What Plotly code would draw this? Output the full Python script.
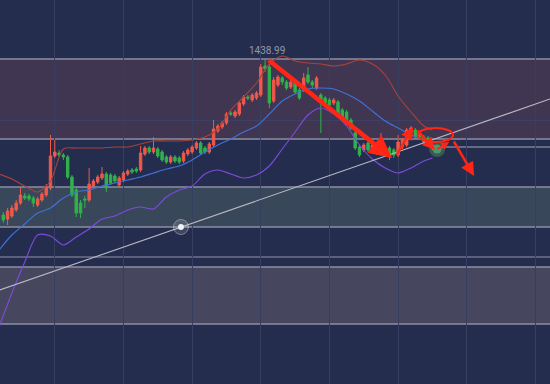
import plotly.graph_objects as go

# ---------------- data (prices) ----------------
bar_index = list(range(101))
open_ = [1361.0,1359.0,1360.5,1363.5,1367.0,1370.5,1370.5,1369.5,1366.0,1368.5,
         1371.0,1374.5,1390.5,1392.0,1391.0,1390.0,1380.0,1373.5,1367.0,1369.0,
         1368.5,1375.5,1377.5,1379.5,1381.5,1381.0,1380.5,1376.0,1378.5,1381.5,
         1383.5,1384.0,1383.5,1391.5,1394.5,1392.5,1394.0,1392.5,1390.0,1387.5,
         1390.0,1389.5,1388.0,1391.5,1392.5,1394.5,1397.0,1394.5,1392.5,1396.0,
         1403.0,1405.0,1407.0,1412.0,1410.5,1411.5,1416.5,1420.0,1418.5,1419.5,
         1421.0,1435.5,1435.0,1418.0,1426.0,1429.5,1427.5,1425.0,1427.0,1423.5,
         1423.5,1431.0,1427.5,1424.5,1421.0,1419.5,1418.5,1417.0,1417.5,1413.5,
         1412.5,1408.5,1402.0,1395.0,1393.5,1397.0,1392.5,1392.0,1393.5,1393.5,
         1394.5,1393.5,1391.0,1395.0,1396.0,1402.5,1403.5,1402.0,1400.0,1399.5,
         1396.0]
high_ = [1362.5,1364.5,1366.0,1368.5,1375.0,1372.0,1371.5,1370.5,1370.0,1372.5,
         1376.5,1401.0,1398.5,1393.5,1392.0,1391.0,1381.0,1375.0,1368.5,1370.5,
         1384.5,1379.0,1381.0,1385.0,1382.5,1382.0,1381.5,1380.5,1383.0,1384.0,
         1384.5,1385.0,1395.5,1395.5,1395.5,1400.0,1395.0,1393.5,1391.0,1391.0,
         1391.0,1390.5,1393.0,1394.5,1396.0,1398.0,1398.0,1395.5,1397.5,1408.5,
         1406.5,1408.0,1412.5,1413.0,1413.5,1418.0,1421.0,1421.0,1422.0,1423.0,
         1436.5,1438.99,1436.5,1430.0,1431.0,1430.5,1428.5,1428.5,1428.0,1424.5,
         1432.0,1435.0,1428.5,1430.5,1422.0,1420.5,1419.5,1419.5,1418.5,1414.5,
         1413.5,1409.5,1403.0,1396.0,1397.0,1398.0,1397.0,1397.0,1402.0,1394.5,
         1395.5,1394.5,1401.0,1399.5,1404.5,1405.5,1404.5,1403.0,1401.0,1400.5,
         1397.0]
low_ = [1357.0,1356.0,1359.5,1362.5,1366.0,1368.5,1368.0,1365.0,1365.0,1367.5,
        1370.0,1373.5,1389.5,1390.0,1388.5,1379.0,1370.0,1360.0,1359.5,1364.5,
        1367.5,1374.5,1376.5,1378.5,1372.5,1376.0,1377.0,1375.0,1377.5,1380.5,
        1381.5,1382.0,1382.5,1390.5,1391.5,1391.5,1389.5,1387.5,1386.5,1386.5,
        1387.0,1386.5,1387.0,1390.5,1391.5,1393.5,1391.0,1391.5,1391.5,1395.0,
        1402.0,1404.0,1406.0,1410.5,1409.5,1410.5,1415.5,1418.5,1417.5,1418.5,
        1420.0,1432.5,1414.5,1417.0,1425.0,1426.0,1423.5,1424.0,1421.5,1418.5,
        1422.5,1426.5,1424.5,1423.5,1402.0,1416.0,1415.0,1416.0,1410.0,1408.5,
        1407.5,1403.5,1393.5,1390.0,1392.5,1392.5,1391.5,1391.0,1392.5,1390.0,
        1388.5,1389.5,1390.0,1394.0,1395.0,1401.5,1399.0,1398.5,1396.5,1395.0,
        1393.5]
close_ = [1358.5,1363.0,1364.5,1367.0,1371.0,1369.5,1369.0,1367.0,1369.0,1371.5,
          1375.0,1390.5,1392.5,1391.0,1390.0,1380.0,1371.0,1362.0,1362.0,1368.5,
          1376.5,1378.0,1380.0,1381.5,1374.5,1377.0,1378.0,1379.5,1382.0,1383.0,
          1382.5,1383.0,1392.0,1394.5,1392.5,1394.5,1390.5,1388.5,1387.5,1390.0,
          1388.0,1387.5,1392.0,1393.5,1395.0,1397.0,1392.0,1392.5,1396.5,1404.0,
          1405.5,1407.0,1411.5,1411.5,1412.5,1417.0,1420.0,1419.5,1421.0,1422.0,
          1435.0,1434.0,1417.0,1428.5,1430.0,1427.5,1424.5,1427.5,1422.5,1419.5,
          1429.5,1427.5,1426.0,1429.5,1418.5,1417.0,1416.0,1418.5,1411.0,1409.5,
          1408.5,1404.5,1394.5,1391.0,1396.0,1393.5,1396.0,1396.0,1398.5,1391.0,
          1390.0,1391.0,1397.5,1398.5,1403.5,1404.5,1400.0,1399.5,1397.5,1396.0,
          1394.5]

band_index = [-1, 2, 5, 8, 11, 14, 17, 20, 23, 26, 29, 32, 35, 38, 41, 44, 47, 50,
              53, 56, 59, 62, 65, 68, 71, 74, 77, 80, 83, 86, 89, 92, 95, 98, 100]
band_upper = [1381.5,1379.0,1375.5,1372.5,1378.0,1394.0,1394.5,1394.5,1394.5,1395.0,
              1395.0,1396.5,1398.0,1398.0,1398.0,1398.5,1400.0,1404.0,1413.5,1420.0,
              1427.0,1436.5,1440.5,1438.0,1437.0,1436.5,1435.5,1436.5,1438.5,1436.5,
              1431.0,1420.5,1412.5,1405.5,1403.5]
band_middle = [1343.5,1351.0,1356.5,1362.0,1364.5,1369.5,1372.5,1373.5,1375.5,1377.0,
               1378.5,1380.0,1382.0,1384.0,1385.5,1388.5,1392.5,1396.0,1399.0,1402.5,
               1405.5,1411.5,1418.0,1421.5,1424.0,1424.5,1424.0,1421.5,1418.0,1413.0,
               1408.0,1404.5,1401.0,1398.5,1397.0]
band_lower = [1305.0,1322.0,1337.5,1351.0,1350.5,1346.0,1350.0,1354.0,1359.0,1360.5,
              1363.5,1365.0,1364.0,1370.0,1373.5,1375.5,1381.5,1383.5,1381.5,1379.5,
              1381.0,1385.5,1394.0,1402.5,1411.0,1414.5,1411.5,1405.5,1396.0,1389.0,
              1384.5,1382.0,1384.5,1388.0,1389.5]

# drawn zones (price ranges) and horizontal levels
zone_resistance = [1399.0, 1439.0]
zone_support = [1355.0, 1375.0]
zone_lower = [1306.5, 1335.0]
level_lines = [1340.0]
level_short = [1395.0]          # short level starting near last bar
level_short_start = 101.8
peak_label = "1438.99"
peak_index = 61.4
peak_price = 1438.99

trend_index = [-0.8, 127.4]
trend_price = [1323.5, 1419.0]
anchor_point = [41.4, 1355.0]
glow_point = [101.1, 1394.0]

# hand-drawn red arrows: (tail index, tail price, head index, head price, width, head size)
arrows = [
    (61.5, 1439.0, 90.6, 1389.5, 4.5, 1.0),
    (91.5, 1390.5, 95.5, 1405.0, 2.5, 1.0),
    (96.2, 1404.0, 100.6, 1393.5, 2.5, 1.0),
    (100.8, 1393.5, 103.9, 1397.5, 2, 0.8),
    (104.8, 1398.5, 109.7, 1380.5, 2.5, 1.1),
]
ellipse_box = [96.6, 104.8, 1397.5, 1404.5]

grid_x = [12, 28, 44, 60, 76, 92, 108, 124]
grid_y = [1408.5]

X_RANGE = [-0.77, 127.4]
Y_RANGE = [1276.5, 1468.5]

BG = "#252d4e"
RED = "#f0584a"
GREEN = "#2fb24a"
ARROW = "#ff2616"
BORDER = "#8c8ea0"

fig = go.Figure()

# glow near last bar (under the candles)
fig.add_trace(go.Scatter(x=[glow_point[0]], y=[glow_point[1]], mode="markers",
                         marker=dict(size=16, color="rgba(120,255,120,0.22)", line=dict(width=0)),
                         showlegend=False, hoverinfo="skip"))
fig.add_trace(go.Scatter(x=[glow_point[0]], y=[glow_point[1]], mode="markers",
                         marker=dict(size=9, color="rgba(140,255,140,0.35)", line=dict(width=0)),
                         showlegend=False, hoverinfo="skip"))

fig.add_trace(go.Candlestick(
    x=bar_index, open=open_, high=high_, low=low_, close=close_,
    increasing=dict(line=dict(color=RED, width=1), fillcolor=RED),
    decreasing=dict(line=dict(color=GREEN, width=1), fillcolor=GREEN),
    whiskerwidth=0, showlegend=False, hoverinfo="skip"))

for vals, col in [(band_upper, "#a8423a"), (band_middle, "#3f72d8"), (band_lower, "#7d4bdb")]:
    fig.add_trace(go.Scatter(x=band_index, y=vals, mode="lines",
                             line=dict(color=col, width=1.1, shape="spline", smoothing=0.8),
                             showlegend=False, hoverinfo="skip"))

fig.add_trace(go.Scatter(x=trend_index, y=trend_price, mode="lines",
                         line=dict(color="#b9bac4", width=1.1),
                         showlegend=False, hoverinfo="skip"))

# anchor point with halo
fig.add_trace(go.Scatter(x=[anchor_point[0]], y=[anchor_point[1]], mode="markers",
                         marker=dict(size=15, color="rgba(255,255,255,0.12)",
                                     line=dict(color="rgba(255,255,255,0.35)", width=1)),
                         showlegend=False, hoverinfo="skip"))
fig.add_trace(go.Scatter(x=[anchor_point[0]], y=[anchor_point[1]], mode="markers",
                         marker=dict(size=6, color="#f2f2f5"),
                         showlegend=False, hoverinfo="skip"))

shapes = []
for (y0, y1), fill in [(zone_resistance, "rgba(110,70,90,0.38)"),
                       (zone_support, "rgba(95,120,115,0.35)"),
                       (zone_lower, "rgba(120,110,120,0.40)")]:
    shapes.append(dict(type="rect", xref="paper", x0=0, x1=1, yref="y", y0=y0, y1=y1,
                       fillcolor=fill, line=dict(width=0), layer="below"))
    for yy in (y0, y1):
        shapes.append(dict(type="line", xref="paper", x0=0, x1=1, yref="y", y0=yy, y1=yy,
                           line=dict(color=BORDER, width=1.4), layer="below"))
for yy in level_lines:
    shapes.append(dict(type="line", xref="paper", x0=0, x1=1, yref="y", y0=yy, y1=yy,
                       line=dict(color="#6e7188", width=1.4), layer="below"))
for yy in level_short:
    shapes.append(dict(type="line", xref="x", x0=level_short_start, x1=X_RANGE[1], yref="y",
                       y0=yy, y1=yy, line=dict(color="#7d8098", width=1.4), layer="below"))

shapes.append(dict(type="circle", xref="x", yref="y",
                   x0=ellipse_box[0], x1=ellipse_box[1], y0=ellipse_box[2], y1=ellipse_box[3],
                   line=dict(color=ARROW, width=2)))

annotations = [dict(x=peak_index, y=peak_price, text=peak_label, showarrow=False,
                    yanchor="bottom", yshift=1, font=dict(family="Roboto", size=10, color="#9497aa"))]
for tx, ty, hx, hy, w, hs in arrows:
    annotations.append(dict(x=hx, y=hy, ax=tx, ay=ty, xref="x", yref="y", axref="x", ayref="y",
                            text="", showarrow=True, arrowhead=2, arrowsize=hs,
                            arrowwidth=w, arrowcolor=ARROW, standoff=0))

fig.update_layout(
    width=550, height=384, margin=dict(l=0, r=0, t=0, b=0),
    paper_bgcolor=BG, plot_bgcolor=BG, boxgap=0.2,
    shapes=shapes, annotations=annotations, showlegend=False,
    xaxis=dict(range=X_RANGE, showticklabels=False, ticks="", zeroline=False, showline=False,
               tickvals=grid_x, gridcolor="#363e62", gridwidth=1, rangeslider=dict(visible=False),
               fixedrange=True),
    yaxis=dict(range=Y_RANGE, showticklabels=False, ticks="", zeroline=False, showline=False,
               tickvals=grid_y, gridcolor="#3a4164", gridwidth=1, fixedrange=True),
)

fig.write_html("out.html", config={"displayModeBar": False},
               post_script="document.body.style.margin='0';document.body.style.background='#252d4e';")
